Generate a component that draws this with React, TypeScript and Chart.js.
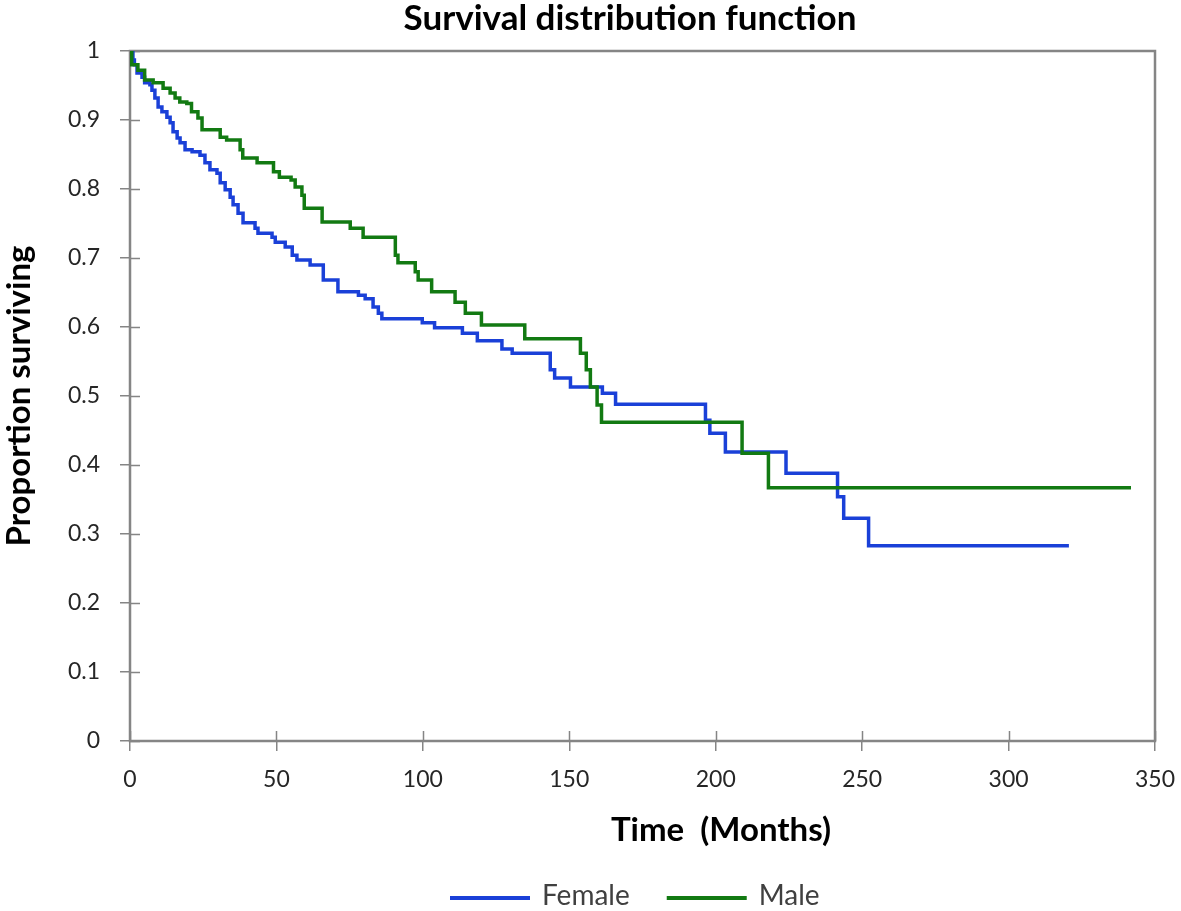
import React, { useEffect, useRef } from "react";
import { Chart, registerables } from "chart.js";

Chart.register(...registerables);

// ---- Data ----
const femaleTime = [
  0, 1.0, 1.5, 2.4, 4.1, 5.0, 6.8, 7.5, 8.5, 9.6, 10.9, 12.6, 13.7, 14.7, 16.1, 17.1, 18.8,
  21.2, 23.9, 25.6, 27.3, 29.7, 30.8, 32.5, 34.2, 35.2, 36.9, 38.6, 42.7, 43.7, 48.5, 49.6,
  53.0, 55.4, 57.0, 61.5, 66.0, 71.0, 78.0, 80.3, 83.0, 84.8, 86.0, 99.8, 104.0, 113.5,
  118.6, 127.0, 130.5, 143.5, 145.0, 150.4, 161.3, 165.8, 196.5, 198.0, 203.3, 224.0,
  241.6, 243.7, 252.2, 320.6,
];
const femaleSurvival = [
  1.0, 0.987, 0.98, 0.968, 0.962, 0.954, 0.951, 0.943, 0.932, 0.919, 0.912, 0.904, 0.896,
  0.883, 0.874, 0.867, 0.857, 0.854, 0.849, 0.838, 0.828, 0.823, 0.809, 0.799, 0.788, 0.777,
  0.765, 0.751, 0.743, 0.736, 0.73, 0.723, 0.716, 0.704, 0.697, 0.69, 0.668, 0.651, 0.646,
  0.641, 0.629, 0.62, 0.612, 0.606, 0.599, 0.591, 0.58, 0.568, 0.562, 0.538, 0.526, 0.513,
  0.504, 0.488, 0.465, 0.446, 0.419, 0.388, 0.354, 0.323, 0.283, 0.283,
];
const maleTime = [
  0, 0.6, 2.7, 5.0, 7.9, 11.3, 13.7, 15.4, 17.0, 19.4, 21.0, 23.2, 24.6, 30.8, 33.0, 37.6,
  38.5, 43.4, 49.0, 51.0, 55.0, 56.4, 58.7, 59.5, 65.6, 75.2, 79.6, 90.6, 91.5, 97.4, 98.4,
  103.0, 111.0, 114.5, 120.0, 134.8, 153.8, 155.8, 157.2, 159.5, 161.0, 209.0, 218.0, 341.8,
];
const maleSurvival = [
  1.0, 0.98, 0.972, 0.958, 0.954, 0.946, 0.939, 0.932, 0.926, 0.924, 0.912, 0.903, 0.886,
  0.875, 0.871, 0.857, 0.845, 0.838, 0.825, 0.817, 0.813, 0.803, 0.791, 0.772, 0.752, 0.743,
  0.73, 0.704, 0.693, 0.68, 0.668, 0.651, 0.636, 0.62, 0.603, 0.583, 0.562, 0.538, 0.513,
  0.487, 0.462, 0.417, 0.367, 0.367,
];
const seriesLabels = ["Female", "Male"];
const seriesColors = ["#1a40d8", "#127a12"];

const chartTitle = "Survival distribution function";
const xTitle = "Time  (Months)";
const yTitle = "Proportion surviving";

const FONT = "Lato, 'Open Sans', sans-serif";
const FRAME = "#858585";

const decorPlugin = {
  id: "decor",
  beforeDatasetsDraw(chart: any) {
    const { ctx, chartArea } = chart;
    const xs = chart.scales.x;
    const ys = chart.scales.y;
    ctx.save();
    ctx.strokeStyle = FRAME;
    ctx.lineWidth = 1.5;
    ctx.beginPath();
    ys.ticks.forEach((t: any) => {
      const py = Math.round(ys.getPixelForValue(t.value)) + 0.5;
      ctx.moveTo(chartArea.left, py);
      ctx.lineTo(chartArea.left + 10, py);
    });
    xs.ticks.forEach((t: any) => {
      const px = Math.round(xs.getPixelForValue(t.value)) + 0.5;
      ctx.moveTo(px, chartArea.bottom);
      ctx.lineTo(px, chartArea.bottom - 10);
    });
    ctx.stroke();
    ctx.lineWidth = 2.5;
    ctx.strokeRect(chartArea.left, chartArea.top, chartArea.right - chartArea.left, chartArea.bottom - chartArea.top);
    ctx.restore();
  },
  afterDraw(chart: any) {
    const { ctx } = chart;
    ctx.save();
    // chart title
    ctx.fillStyle = "#000";
    ctx.textAlign = "center";
    ctx.textBaseline = "middle";
    ctx.font = `bold 35px ${FONT}`;
    ctx.fillText(chartTitle, 630, 19);
    // x-axis title
    ctx.font = `bold 33px ${FONT}`;
    ctx.fillText(xTitle, 721, 830);
    // legend
    ctx.font = `28px ${FONT}`;
    ctx.textAlign = "left";
    let x = 450;
    const y = 896;
    chart.data.datasets.forEach((ds: any) => {
      ctx.strokeStyle = ds.borderColor;
      ctx.lineWidth = 4;
      ctx.beginPath();
      ctx.moveTo(x, y + 2);
      ctx.lineTo(x + 80, y + 2);
      ctx.stroke();
      ctx.fillStyle = "#404040";
      ctx.fillText(ds.label, x + 92, y);
      x += 92 + ctx.measureText(ds.label).width + 37;
    });
    ctx.restore();
  },
};

export default function App() {
  const ref = useRef<HTMLCanvasElement>(null);
  useEffect(() => {
    if (!ref.current) return;
    const mk = (t: number[], s: number[]) => t.map((v, i) => ({ x: v, y: s[i] }));
    const chart = new Chart(ref.current, {
      type: "line",
      data: {
        datasets: [
          {
            label: seriesLabels[0],
            data: mk(femaleTime, femaleSurvival),
            borderColor: seriesColors[0],
            backgroundColor: seriesColors[0],
            borderWidth: 3.5,
            pointRadius: 0,
            stepped: "before",
            order: 1,
          },
          {
            label: seriesLabels[1],
            data: mk(maleTime, maleSurvival),
            borderColor: seriesColors[1],
            backgroundColor: seriesColors[1],
            borderWidth: 3.5,
            pointRadius: 0,
            stepped: "before",
            order: 0,
          },
        ],
      },
      options: {
        animation: false,
        responsive: false,
        events: [],
        layout: { padding: { top: 51, right: 26, bottom: 110, left: 0 } },
        plugins: {
          legend: { display: false },
          title: { display: false },
          tooltip: { enabled: false },
        },
        scales: {
          x: {
            type: "linear",
            min: 0,
            max: 350,
            afterFit: (s: any) => {
              s.height = 60;
              s.paddingLeft = 0;
              s.paddingRight = 0;
            },
            ticks: {
              stepSize: 50,
              padding: 15,
              color: "#262626",
              font: { family: FONT, size: 23 },
            },
            grid: { drawOnChartArea: false, tickLength: 10, color: FRAME, lineWidth: 1.5 },
            border: { display: false },
          },
          y: {
            type: "linear",
            min: 0,
            max: 1,
            afterFit: (s: any) => {
              s.width = 130;
              s.paddingTop = 0;
              s.paddingBottom = 0;
            },
            ticks: {
              stepSize: 0.1,
              padding: 20,
              color: "#262626",
              font: { family: FONT, size: 23 },
              callback: (v: any) => String(Number(Number(v).toFixed(1))),
            },
            grid: { drawOnChartArea: false, tickLength: 10, color: FRAME, lineWidth: 1.5 },
            border: { display: false },
            title: {
              display: true,
              text: yTitle,
              color: "#000",
              padding: { top: 0, bottom: 0 },
              font: { family: FONT, size: 33, weight: "bold" },
            },
          },
        },
      },
      plugins: [decorPlugin],
    });
    return () => chart.destroy();
  }, []);
  return (
    <div style={{ position: "absolute", left: 0, top: 0, width: 1181, height: 911, background: "#fff" }}>
      <canvas ref={ref} width={1181} height={911} style={{ display: "block" }} />
    </div>
  );
}
